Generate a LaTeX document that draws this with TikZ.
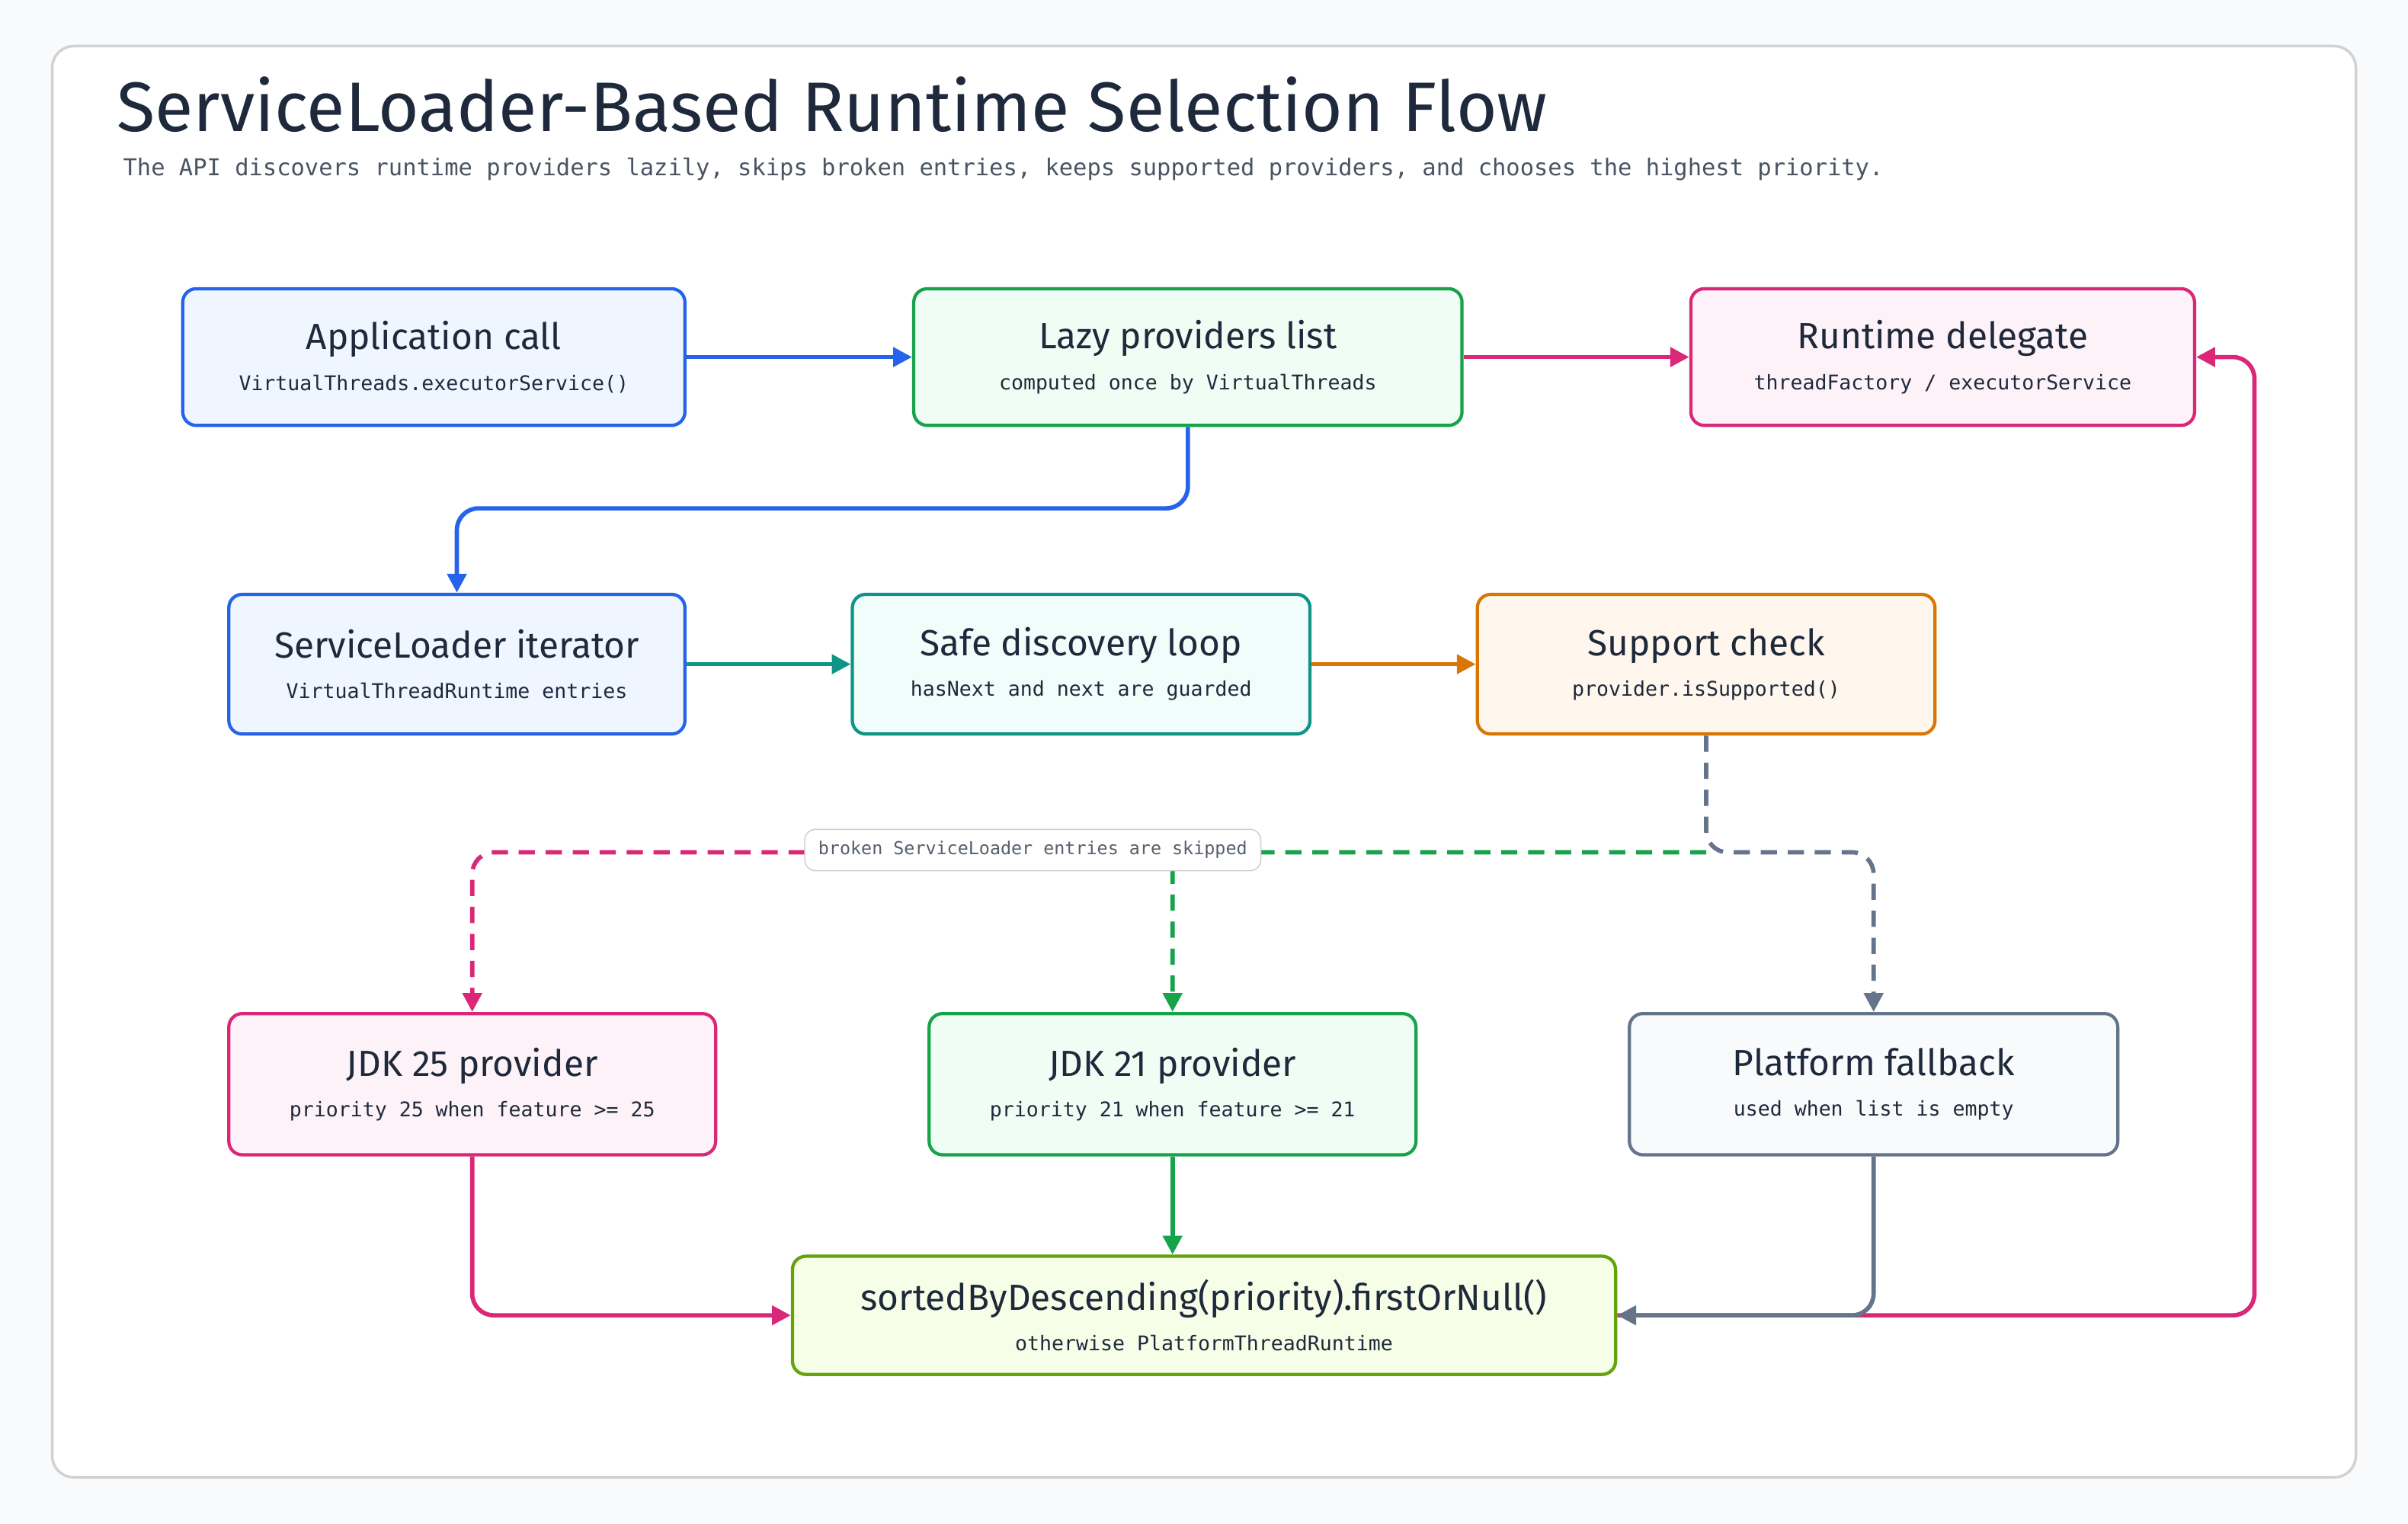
\documentclass[tikz,border=0pt]{standalone}
\usepackage{fontspec}
\setmainfont{Fira Sans}
\newfontfamily\codefont{DejaVu Sans Mono}
\usetikzlibrary{arrows.meta,positioning,backgrounds}
\definecolor{bluefg}{HTML}{2563EB}\definecolor{bluebg}{HTML}{EFF6FF}
\definecolor{greenfg}{HTML}{16A34A}\definecolor{greenbg}{HTML}{F0FDF4}
\definecolor{pinkfg}{HTML}{DB2777}\definecolor{pinkbg}{HTML}{FDF2F8}
\definecolor{tealfg}{HTML}{0F9488}\definecolor{tealbg}{HTML}{F0FDFA}
\definecolor{orangefg}{HTML}{D97706}\definecolor{orangebg}{HTML}{FFF7ED}
\definecolor{grayfg}{HTML}{64748B}\definecolor{graybg}{HTML}{F8FAFC}
\definecolor{limefg}{HTML}{65A30D}\definecolor{limebg}{HTML}{F7FEE7}
\definecolor{inkc}{HTML}{1E293B}
\newcommand{\boxtext}[2]{{\fontsize{13.5}{16}\selectfont #1}\\[3pt]{\codefont\fontsize{7.5}{9}\selectfont #2}}
\begin{document}
\begin{tikzpicture}[x=0.02cm,y=-0.02cm,
        box/.style={rectangle, draw=#1fg, fill=#1bg, line width=1.2pt, rounded corners=5pt, align=center, text=inkc, inner sep=0pt},
        arrow/.style={-{Triangle[length=7pt,width=7pt]}, line width=1.6pt, rounded corners=8pt},
        dasharrow/.style={arrow, dash pattern=on 6pt off 4pt}
    ]
        % Canvas
        \fill[graybg] (0,0) rectangle (1568,992);
        \useasboundingbox (0,0) rectangle (1568,992);
        \draw[fill=white, draw=gray!35, line width=1pt, rounded corners=8pt] (34,30) rectangle (1534,962);
        \node[anchor=west, text=inkc, font=\fontsize{26}{30}\selectfont] (title) at (70,68) {ServiceLoader-Based Runtime Selection Flow};
        \node[anchor=west, text=inkc!80, font=\codefont\fontsize{8.6}{10}\selectfont] (subtitle) at (74,110) {The API discovers runtime providers lazily, skips broken entries, keeps supported providers, and chooses the highest priority.};

        % Blocks
        \node[box=blue, minimum width=327*0.02cm, minimum height=89*0.02cm] (app) at (282.5,232.5) {\boxtext{Application call}{VirtualThreads.executorService()}};
        \node[box=green, minimum width=357*0.02cm, minimum height=89*0.02cm] (lazy) at (773.5,232.5) {\boxtext{Lazy providers list}{computed once by VirtualThreads}};
        \node[box=pink, minimum width=328*0.02cm, minimum height=89*0.02cm] (runtime) at (1265,232.5) {\boxtext{Runtime delegate}{threadFactory / executorService}};
        \node[box=blue, minimum width=297*0.02cm, minimum height=91*0.02cm] (iter) at (297.5,432.5) {\boxtext{ServiceLoader iterator}{VirtualThreadRuntime entries}};
        \node[box=teal, minimum width=298*0.02cm, minimum height=91*0.02cm] (loop) at (704,432.5) {\boxtext{Safe discovery loop}{hasNext and next are guarded}};
        \node[box=orange, minimum width=298*0.02cm, minimum height=91*0.02cm] (support) at (1111,432.5) {\boxtext{Support check}{provider.isSupported()}};
        \node[box=pink, minimum width=317*0.02cm, minimum height=92*0.02cm] (jdk25) at (307.5,706) {\boxtext{JDK 25 provider}{priority 25 when feature >= 25}};
        \node[box=green, minimum width=317*0.02cm, minimum height=92*0.02cm] (jdk21) at (763.5,706) {\boxtext{JDK 21 provider}{priority 21 when feature >= 21}};
        \node[box=gray, minimum width=318*0.02cm, minimum height=92*0.02cm] (platform) at (1220,706) {\boxtext{Platform fallback}{used when list is empty}};
        \node[box=lime, minimum width=536*0.02cm, minimum height=77*0.02cm] (sorted) at (784,856.5) {\boxtext{sortedByDescending(priority).firstOrNull()}{otherwise PlatformThreadRuntime}};

        % Arrows
        \draw[arrow, bluefg] (app) -- (lazy);
        \draw[arrow, pinkfg] (lazy) -- (runtime);
        \draw[arrow, bluefg] (lazy.south) |- (536,331) -| (iter.north);
        \draw[arrow, tealfg] (iter) -- (loop);
        \draw[arrow, orangefg] (loop) -- (support);
        \coordinate (split) at (1111,555);
        \coordinate (noteleft) at (524,555);
        \draw[dasharrow, greenfg] (split) -| (jdk21.north);
        \draw[dasharrow, pinkfg] (noteleft) -| (jdk25.north);
        \draw[dasharrow, grayfg] (support.south) |- (1165,555) -| (platform.north);
        \draw[arrow, pinkfg] (jdk25.south) |- (sorted.west);
        \draw[arrow, greenfg] (jdk21.south) -- (jdk21.south |- sorted.north);
        \draw[arrow, pinkfg] (sorted.east) -| (1468,400) |- (runtime.east);
        \draw[arrow, grayfg] (platform.south) |- (sorted.east);

        % Note
        \node[draw=gray!40, fill=white, rounded corners=4pt, minimum width=297*0.02cm, minimum height=27*0.02cm, inner sep=0pt, text=inkc!75, font=\codefont\fontsize{6.6}{8}\selectfont] (note) at (672.5,553.5) {broken ServiceLoader entries are skipped};
    \end{tikzpicture}
\end{document}
